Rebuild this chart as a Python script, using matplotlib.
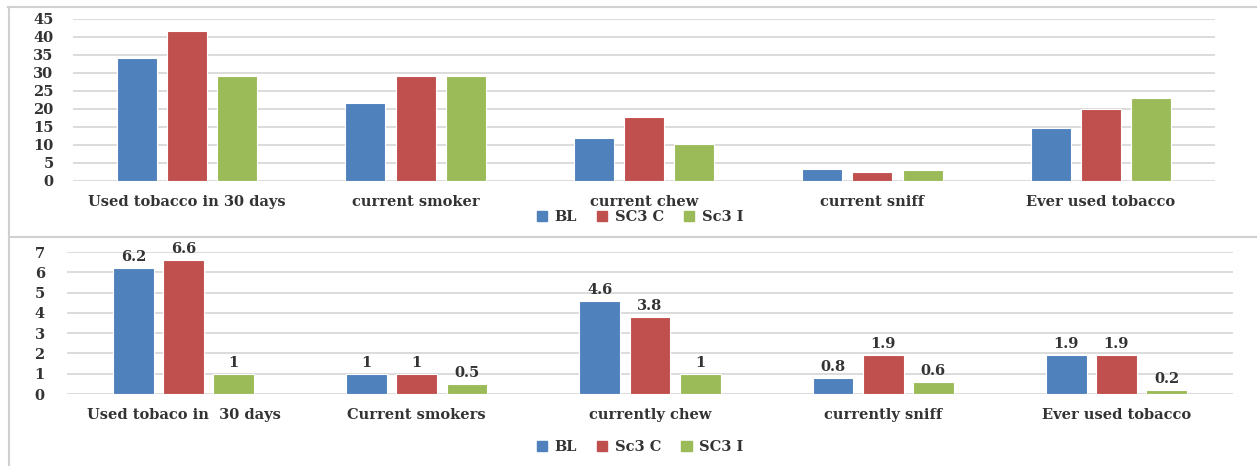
import matplotlib
matplotlib.use("Agg")
import matplotlib.pyplot as plt
from matplotlib.lines import Line2D
from matplotlib.patches import Patch
import numpy as np

# ---- data ----
top_categories = ["Used tobacco in 30 days", "current smoker", "current chew",
                  "current sniff", "Ever used tobacco"]
top_series_names = ["BL", "SC3 C", "Sc3 I"]
top_bl = [34.1, 21.7, 11.9, 3.4, 14.8]
top_sc3c = [41.8, 29.3, 17.7, 2.4, 20.0]
top_sc3i = [29.3, 29.3, 10.4, 3.1, 23.1]
top_yticks = [0, 5, 10, 15, 20, 25, 30, 35, 40, 45]

bot_categories = ["Used tobaco in  30 days", "Current smokers", "currently chew",
                  "currently sniff", "Ever used tobacco"]
bot_series_names = ["BL", "Sc3 C", "SC3 I"]
bot_bl = [6.2, 1, 4.6, 0.8, 1.9]
bot_sc3c = [6.6, 1, 3.8, 1.9, 1.9]
bot_sc3i = [1, 0.5, 1, 0.6, 0.2]
bot_yticks = [0, 1, 2, 3, 4, 5, 6, 7]

colors = ["#4F81BD", "#C0504D", "#9BBB59"]
FONT = "DejaVu Serif"
plt.rcParams["font.family"] = FONT
plt.rcParams["font.weight"] = "bold"
TXT = "#333333"
FS = 10.5

W, H = 1257, 466
fig = plt.figure(figsize=(W / 100, H / 100), dpi=100)


def px_axes(left, top, right, bottom):
    return fig.add_axes([left / W, 1 - bottom / H, (right - left) / W, (bottom - top) / H])


def draw(ax, cats, series, names, yticks, offset, width, labels, tickpad):
    x = np.arange(len(cats))
    offs = [-offset, 0, offset]
    for vals, c, o, n in zip(series, colors, offs, names):
        bars = ax.bar(x + o, vals, width, color=c, edgecolor="white", linewidth=0.8,
                      label=n, zorder=3)
        if labels:
            for b, v in zip(bars, vals):
                ax.annotate(f"{v:g}", (b.get_x() + b.get_width() / 2, v),
                            xytext=(0, 3), textcoords="offset points",
                            ha="center", va="bottom", fontsize=FS, color=TXT,
                            fontweight="bold")
    ax.set_xlim(-0.5, len(cats) - 0.5)
    ax.set_ylim(yticks[0], yticks[-1])
    ax.set_yticks(yticks)
    ax.set_yticklabels([str(t) for t in yticks], fontsize=FS, color=TXT, fontweight="bold")
    ax.set_xticks(x)
    ax.set_xticklabels(cats, fontsize=FS, color=TXT, fontweight="bold")
    ax.tick_params(axis="y", length=0, pad=tickpad)
    ax.tick_params(axis="x", length=0, pad=10)
    for s in ax.spines.values():
        s.set_visible(False)
    ax.yaxis.grid(True, color="#D9D9D9", linewidth=1.3, zorder=0)
    ax.set_axisbelow(True)


def legend(ax, names, ycenter):
    ax.legend(handles=[Patch(color=c, label=n) for c, n in zip(colors, names)],
              loc="center", bbox_to_anchor=(640 / W, 1 - ycenter / H),
              bbox_transform=fig.transFigure, ncol=3, frameon=False,
              prop={"size": FS, "weight": "bold", "family": FONT},
              labelcolor=TXT, handlelength=0.7, handleheight=0.7,
              handletextpad=0.5, columnspacing=1.4, borderpad=0)


ax1 = px_axes(73, 19, 1215, 181)
draw(ax1, top_categories, [top_bl, top_sc3c, top_sc3i], top_series_names,
     top_yticks, 0.22, 0.175, False, 14)
legend(ax1, top_series_names, 217)

ax2 = px_axes(67, 252, 1233, 394)
draw(ax2, bot_categories, [bot_bl, bot_sc3c, bot_sc3i], bot_series_names,
     bot_yticks, 0.215, 0.175, True, 16)
legend(ax2, bot_series_names, 447)

# chart borders
bc = "#D0D0D0"
fig.add_artist(Line2D([8 / W, 1], [1 - 7 / H, 1 - 7 / H], color=bc, lw=1.5))
fig.add_artist(Line2D([9 / W, 9 / W], [1 - 7 / H, 0], color=bc, lw=1.5))
fig.add_artist(Line2D([9 / W, 1], [1 - 237 / H, 1 - 237 / H], color=bc, lw=1.5))

fig.savefig("out.png", dpi=100, facecolor="white")
